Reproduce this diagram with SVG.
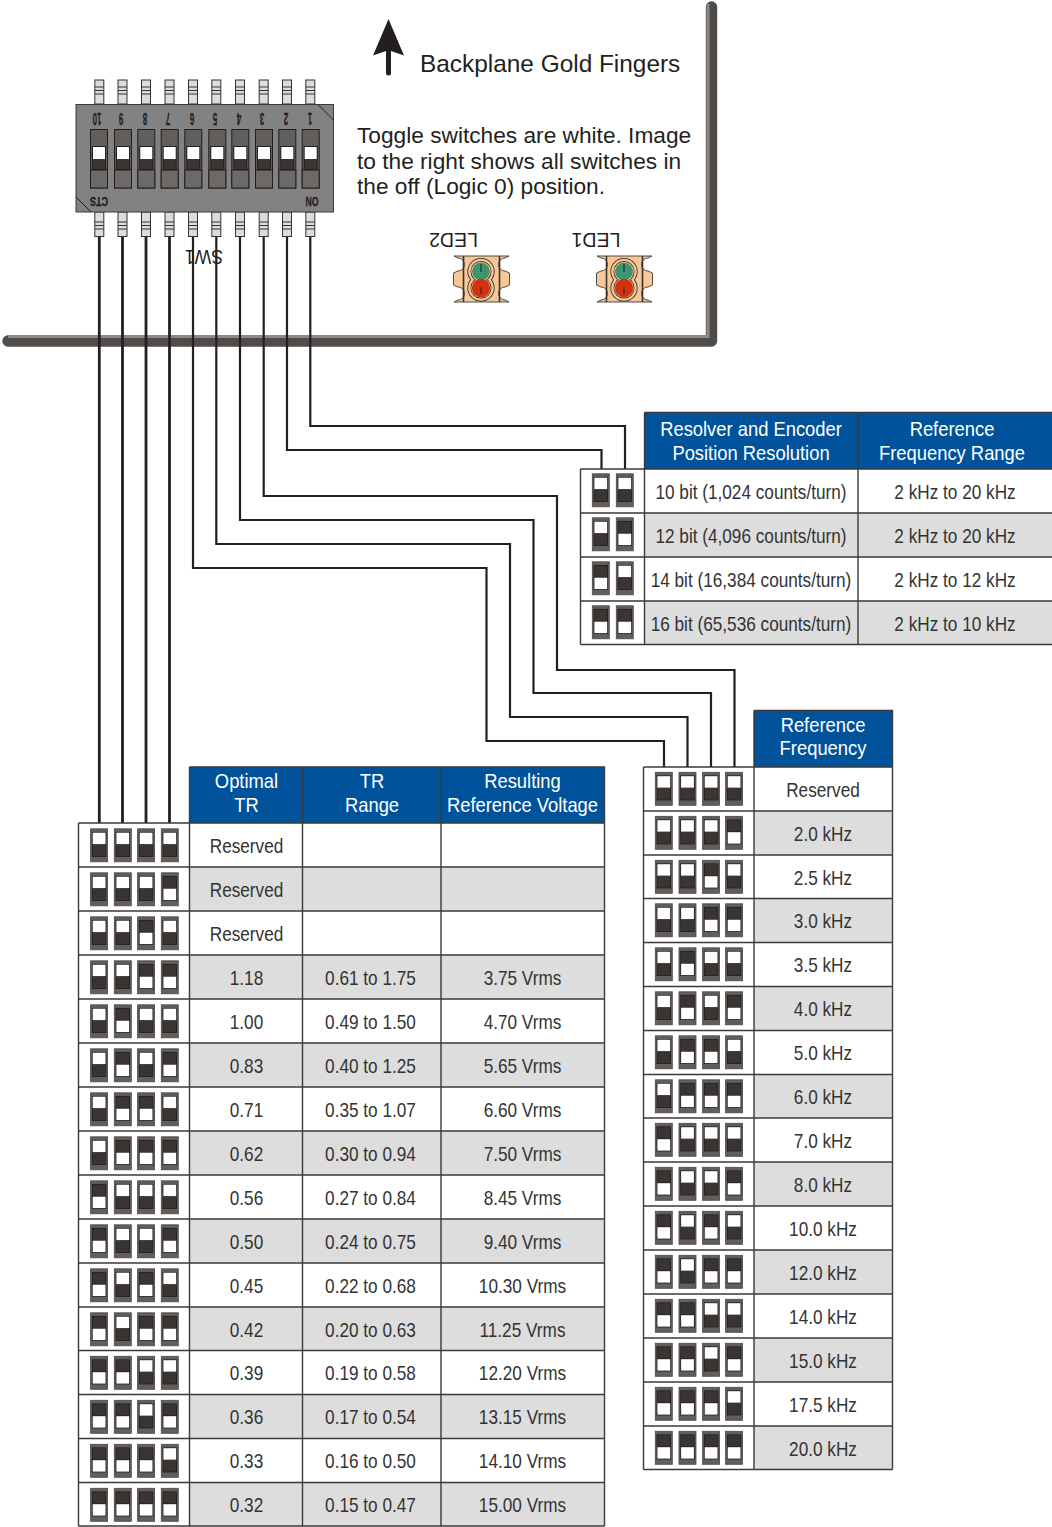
<svg xmlns="http://www.w3.org/2000/svg" width="1052" height="1527" viewBox="0 0 1052 1527">
<style>
text{font-family:"Liberation Sans",Arial,sans-serif;fill:#333;}
.wide{fill:#231f20;}
.c{text-anchor:middle;font-size:20px;transform-box:fill-box;transform-origin:center;transform:scaleX(.86);}
.h{text-anchor:middle;font-size:21px;fill:#fff;transform-box:fill-box;transform-origin:center;transform:scaleX(.875);}
.hd{fill:#00539b;}
.g{fill:#dcdddc;}
.ln{fill:none;stroke:#3a3a3a;stroke-width:1.4;}
.w{fill:none;stroke:#231f20;stroke-width:2.2;}
.wt{fill:none;stroke:#231f20;stroke-width:2.8;}
.pin{fill:#dcdcdc;stroke:#333;stroke-width:1;}
.d{font-size:16px;font-weight:bold;text-anchor:middle;fill:#231f20;stroke:#231f20;stroke-width:.3;}
</style>
<defs>
<g id="s0"><rect x=".3" y=".3" width="17" height="33" fill="#625e5c" stroke="#4c4846" stroke-width=".8"/><rect x="1.6" y="3.4" width="14.4" height="25" fill="#231f20"/><rect x="2.4" y="4.2" width="12.8" height="11.6" fill="#fff"/><rect x="2.4" y="15.8" width="12.8" height="11.8" fill="#3a3532"/></g>
<g id="s1"><rect x=".3" y=".3" width="17" height="33" fill="#625e5c" stroke="#4c4846" stroke-width=".8"/><rect x="1.6" y="3.4" width="14.4" height="25" fill="#231f20"/><rect x="2.4" y="4.2" width="12.8" height="11.2" fill="#3a3532"/><rect x="2.4" y="16.2" width="12.8" height="11.4" fill="#fff"/></g>
<g id="dip"><rect x=".5" y=".5" width="17" height="58.5" fill="#625e5c" stroke="#231f20"/><rect x=".5" y="41" width="17" height="18" fill="#6c6967" stroke="#231f20"/><rect x="2" y="17" width="14" height="24" fill="#231f20"/><rect x="3" y="18" width="12" height="12" fill="#fff"/><rect x="3" y="30" width="12" height="10" fill="#3a3532"/></g>
<g id="ptop"><rect class="pin" x="-4.5" y="0" width="9" height="24"/><path class="pin" d="M-4.5,7H4.5M-4.5,10.5H4.5M-4.5,14H4.5"/></g>
<g id="pbot"><rect class="pin" x="-4.5" y="0" width="9" height="24.5"/><path class="pin" d="M-4.5,10H4.5M-4.5,13.5H4.5M-4.5,17H4.5"/></g>
<g id="led">
<path d="M1,0H56L52,2A6.5,6.5 0 0 0 52,15L56.5,17V29L52,31A6.5,6.5 0 0 0 52,44L56,46H1L5,44A6.5,6.5 0 0 0 5,31L.5,29V17L5,15A6.5,6.5 0 0 0 5,2Z" fill="#f7c795" stroke="#3a3a3a" stroke-width=".9"/>
<path d="M10.5,0V46M46.5,0V46" fill="none" stroke="#3a3230" stroke-width="1.6"/>
<circle cx="28" cy="15.5" r="13.6" fill="#231f20"/><circle cx="28" cy="32" r="13.6" fill="#231f20"/>
<circle cx="28" cy="15.5" r="12.8" fill="#f7c795"/><circle cx="28" cy="32" r="12.8" fill="#f7c795"/>
<circle cx="28" cy="15.5" r="10.5" fill="#231f20"/><circle cx="28" cy="32" r="10.5" fill="#231f20"/>
<circle cx="28" cy="15.5" r="9.8" fill="#f7c795"/><circle cx="28" cy="32" r="9.8" fill="#f7c795"/>
<circle cx="28" cy="15.5" r="8.9" fill="#3f9470"/><circle cx="28" cy="32" r="9.2" fill="#d2310f"/>
<path d="M28,8V16M28,31V38" stroke="#231f20" stroke-width="1" fill="none"/>
</g>
</defs>
<rect width="1052" height="1527" fill="#fff"/>

<g id="board">
<path d="M8,341H711.5V7" fill="none" stroke="#4f4b49" stroke-width="11.4" stroke-linecap="round" stroke-linejoin="round"/>
<path d="M8,336.6H708V4" fill="none" stroke="#8b8a88" stroke-width="3"/>
</g>
<g id="gold-fingers-arrow"><path d="M388.5,19L404,55.5L391,51V73A2.5,2.5 0 0 1 386,73V51L373,55.5Z" fill="#231f20"/></g>
<text class="wide" x="420" y="72" font-size="24.4">Backplane Gold Fingers</text>
<text class="wide" font-size="22.7"><tspan x="357" y="143">Toggle switches are white. Image</tspan><tspan x="357" y="169">to the right shows all switches in</tspan><tspan x="357" y="194">the off (Logic 0) position.</tspan></text>

<g id="connectors">
<path class="wt" d="M99.3,237V823M122.5,237V823M146,237V823M169.5,237V823"/>
<path class="w" d="M193,237V568H486.5V741H664V767"/>
<path class="w" d="M216.3,237V544H510V717H687.5V767"/>
<path class="w" d="M240,237V520H533.5V693H711V767"/>
<path class="w" d="M263.7,237V496H557V670H734.5V767"/>
<path class="w" d="M287,237V450H601.5V469"/>
<path class="w" d="M310.3,237V426H625V469"/>
</g>

<g id="SW1">
<use href="#ptop" x="99.3" y="80"/><use href="#ptop" x="122.5" y="80"/><use href="#ptop" x="146" y="80"/><use href="#ptop" x="169.5" y="80"/><use href="#ptop" x="193" y="80"/><use href="#ptop" x="216.3" y="80"/><use href="#ptop" x="240" y="80"/><use href="#ptop" x="263.7" y="80"/><use href="#ptop" x="287" y="80"/><use href="#ptop" x="310.3" y="80"/>
<use href="#pbot" x="99.3" y="212"/><use href="#pbot" x="122.5" y="212"/><use href="#pbot" x="146" y="212"/><use href="#pbot" x="169.5" y="212"/><use href="#pbot" x="193" y="212"/><use href="#pbot" x="216.3" y="212"/><use href="#pbot" x="240" y="212"/><use href="#pbot" x="263.7" y="212"/><use href="#pbot" x="287" y="212"/><use href="#pbot" x="310.3" y="212"/>
<rect x="76" y="104.5" width="257.5" height="107.5" fill="#828282" stroke="#3a3a3a"/>
<path d="M318,104.5L333.5,120M76,197L91,212" stroke="#231f20" fill="none"/>
<use href="#dip" x="90" y="129"/><use href="#dip" x="114" y="129"/><use href="#dip" x="137.3" y="129"/><use href="#dip" x="160.7" y="129"/><use href="#dip" x="184.3" y="129"/><use href="#dip" x="208.3" y="129"/><use href="#dip" x="231.3" y="129"/><use href="#dip" x="255" y="129"/><use href="#dip" x="278.3" y="129"/><use href="#dip" x="301.7" y="129"/>
<text class="d" transform="translate(97,113) rotate(180) scale(.5,1)">10</text>
<text class="d" transform="translate(121,113) rotate(180) scale(.5,1)">9</text>
<text class="d" transform="translate(145,113) rotate(180) scale(.5,1)">8</text>
<text class="d" transform="translate(168,113) rotate(180) scale(.5,1)">7</text>
<text class="d" transform="translate(192,113) rotate(180) scale(.5,1)">6</text>
<text class="d" transform="translate(215,113) rotate(180) scale(.5,1)">5</text>
<text class="d" transform="translate(239,113) rotate(180) scale(.5,1)">4</text>
<text class="d" transform="translate(262,113) rotate(180) scale(.5,1)">3</text>
<text class="d" transform="translate(286,113) rotate(180) scale(.5,1)">2</text>
<text class="d" transform="translate(310,113) rotate(180) scale(.5,1)">1</text>
<text class="d" style="font-size:12px" transform="translate(99,196.5) rotate(180) scale(.75,1)">CTS</text>
<text class="d" style="font-size:12px" transform="translate(312,196.5) rotate(180) scale(.72,1)">ON</text>
<text class="wide" text-anchor="middle" font-size="20" transform="translate(204,250) rotate(180) scale(.88,1)">SW1</text>
</g>

<g id="LED2"><use href="#led" x="453" y="256"/><text class="wide" text-anchor="middle" font-size="19.5" transform="translate(453.5,233) rotate(180)">LED2</text></g>
<g id="LED1"><use href="#led" x="596" y="256"/><text class="wide" text-anchor="middle" font-size="19.5" transform="translate(596,233) rotate(180)">LED1</text></g>

<g id="resolution-table">
<rect class="hd" x="644.5" y="412.5" width="408" height="56.5"/>
<path class="ln" d="M644.5,412.5H1052M858,412.5V469M644.5,412.5V469"/>
<text class="h" x="751" y="436">Resolver and Encoder</text><text class="h" x="751" y="460">Position Resolution</text>
<text class="h" x="952" y="436">Reference</text><text class="h" x="952" y="460">Frequency Range</text>
<g id="res-0" transform="translate(0,469)"><text class="c" x="751" y="30">10 bit (1,024 counts/turn)</text><text class="c" x="955" y="30">2 kHz to 20 kHz</text><use href="#s0" x="592" y="4.5"/><use href="#s0" x="616" y="4.5"/></g>
<g id="res-1" transform="translate(0,513)"><rect class="g" x="645" width="407" height="44"/><text class="c" x="751" y="30">12 bit (4,096 counts/turn)</text><text class="c" x="955" y="30">2 kHz to 20 kHz</text><use href="#s0" x="592" y="4.5"/><use href="#s1" x="616" y="4.5"/></g>
<g id="res-2" transform="translate(0,557)"><text class="c" x="751" y="30">14 bit (16,384 counts/turn)</text><text class="c" x="955" y="30">2 kHz to 12 kHz</text><use href="#s1" x="592" y="4.5"/><use href="#s0" x="616" y="4.5"/></g>
<g id="res-3" transform="translate(0,601)"><rect class="g" x="645" width="407" height="43.5"/><text class="c" x="751" y="30">16 bit (65,536 counts/turn)</text><text class="c" x="955" y="30">2 kHz to 10 kHz</text><use href="#s1" x="592" y="4.5"/><use href="#s1" x="616" y="4.5"/></g>
<path class="ln" d="M580.5,469H1052M580.5,513H1052M580.5,557H1052M580.5,601H1052M580.5,644.5H1052M580.5,469V644.5M644.5,469V644.5M858,469V644.5"/>
</g>

<g id="frequency-table">
<rect class="hd" x="754" y="710.5" width="138.5" height="56.5"/>
<path class="ln" d="M754,710.5H892.5V767M754,710.5V767"/>
<text class="h" x="823" y="732">Reference</text><text class="h" x="823" y="755.5">Frequency</text>
<g id="f0" transform="translate(0,767)"><text class="c" x="823" y="30">Reserved</text><use href="#s0" x="655" y="5"/><use href="#s0" x="678.7" y="5"/><use href="#s0" x="702.3" y="5"/><use href="#s0" x="725.3" y="5"/></g>
<g id="f1" transform="translate(0,811)"><rect class="g" x="754" width="138" height="44"/><text class="c" x="823" y="30">2.0 kHz</text><use href="#s0" x="655" y="5"/><use href="#s0" x="678.7" y="5"/><use href="#s0" x="702.3" y="5"/><use href="#s1" x="725.3" y="5"/></g>
<g id="f2" transform="translate(0,855)"><text class="c" x="823" y="30">2.5 kHz</text><use href="#s0" x="655" y="5"/><use href="#s0" x="678.7" y="5"/><use href="#s1" x="702.3" y="5"/><use href="#s0" x="725.3" y="5"/></g>
<g id="f3" transform="translate(0,898.5)"><rect class="g" x="754" width="138" height="44"/><text class="c" x="823" y="30">3.0 kHz</text><use href="#s0" x="655" y="5"/><use href="#s0" x="678.7" y="5"/><use href="#s1" x="702.3" y="5"/><use href="#s1" x="725.3" y="5"/></g>
<g id="f4" transform="translate(0,942.5)"><text class="c" x="823" y="30">3.5 kHz</text><use href="#s0" x="655" y="5"/><use href="#s1" x="678.7" y="5"/><use href="#s0" x="702.3" y="5"/><use href="#s0" x="725.3" y="5"/></g>
<g id="f5" transform="translate(0,986.5)"><rect class="g" x="754" width="138" height="44"/><text class="c" x="823" y="30">4.0 kHz</text><use href="#s0" x="655" y="5"/><use href="#s1" x="678.7" y="5"/><use href="#s0" x="702.3" y="5"/><use href="#s1" x="725.3" y="5"/></g>
<g id="f6" transform="translate(0,1030.5)"><text class="c" x="823" y="30">5.0 kHz</text><use href="#s0" x="655" y="5"/><use href="#s1" x="678.7" y="5"/><use href="#s1" x="702.3" y="5"/><use href="#s0" x="725.3" y="5"/></g>
<g id="f7" transform="translate(0,1074.5)"><rect class="g" x="754" width="138" height="43.5"/><text class="c" x="823" y="30">6.0 kHz</text><use href="#s0" x="655" y="5"/><use href="#s1" x="678.7" y="5"/><use href="#s1" x="702.3" y="5"/><use href="#s1" x="725.3" y="5"/></g>
<g id="f8" transform="translate(0,1118)"><text class="c" x="823" y="30">7.0 kHz</text><use href="#s1" x="655" y="5"/><use href="#s0" x="678.7" y="5"/><use href="#s0" x="702.3" y="5"/><use href="#s0" x="725.3" y="5"/></g>
<g id="f9" transform="translate(0,1162)"><rect class="g" x="754" width="138" height="44"/><text class="c" x="823" y="30">8.0 kHz</text><use href="#s1" x="655" y="5"/><use href="#s0" x="678.7" y="5"/><use href="#s0" x="702.3" y="5"/><use href="#s1" x="725.3" y="5"/></g>
<g id="f10" transform="translate(0,1206)"><text class="c" x="823" y="30">10.0 kHz</text><use href="#s1" x="655" y="5"/><use href="#s0" x="678.7" y="5"/><use href="#s1" x="702.3" y="5"/><use href="#s0" x="725.3" y="5"/></g>
<g id="f11" transform="translate(0,1250)"><rect class="g" x="754" width="138" height="44"/><text class="c" x="823" y="30">12.0 kHz</text><use href="#s1" x="655" y="5"/><use href="#s0" x="678.7" y="5"/><use href="#s1" x="702.3" y="5"/><use href="#s1" x="725.3" y="5"/></g>
<g id="f12" transform="translate(0,1294)"><text class="c" x="823" y="30">14.0 kHz</text><use href="#s1" x="655" y="5"/><use href="#s1" x="678.7" y="5"/><use href="#s0" x="702.3" y="5"/><use href="#s0" x="725.3" y="5"/></g>
<g id="f13" transform="translate(0,1338)"><rect class="g" x="754" width="138" height="44"/><text class="c" x="823" y="30">15.0 kHz</text><use href="#s1" x="655" y="5"/><use href="#s1" x="678.7" y="5"/><use href="#s0" x="702.3" y="5"/><use href="#s1" x="725.3" y="5"/></g>
<g id="f14" transform="translate(0,1382)"><text class="c" x="823" y="30">17.5 kHz</text><use href="#s1" x="655" y="5"/><use href="#s1" x="678.7" y="5"/><use href="#s1" x="702.3" y="5"/><use href="#s0" x="725.3" y="5"/></g>
<g id="f15" transform="translate(0,1426)"><rect class="g" x="754" width="138" height="43.5"/><text class="c" x="823" y="30">20.0 kHz</text><use href="#s1" x="655" y="5"/><use href="#s1" x="678.7" y="5"/><use href="#s1" x="702.3" y="5"/><use href="#s1" x="725.3" y="5"/></g>
<path class="ln" d="M643.5,767H892.5M643.5,811H892.5M643.5,855H892.5M643.5,898.5H892.5M643.5,942.5H892.5M643.5,986.5H892.5M643.5,1030.5H892.5M643.5,1074.5H892.5M643.5,1118H892.5M643.5,1162H892.5M643.5,1206H892.5M643.5,1250H892.5M643.5,1294H892.5M643.5,1338H892.5M643.5,1382H892.5M643.5,1426H892.5M643.5,1469.5H892.5M643.5,767V1469.5M754,767V1469.5M892.5,767V1469.5"/>
</g>

<g id="tr-table">
<rect class="hd" x="189.5" y="767" width="415" height="56"/>
<path class="ln" d="M189.5,767H604.5V823M189.5,767V823M302.5,767V823M441,767V823"/>
<text class="h" x="246.5" y="788">Optimal</text><text class="h" x="246.5" y="812">TR</text>
<text class="h" x="372" y="788">TR</text><text class="h" x="372" y="812">Range</text>
<text class="h" x="522.5" y="788">Resulting</text><text class="h" x="522.5" y="812">Reference Voltage</text>
<g id="t0" transform="translate(0,823)"><text class="c" x="246.5" y="30">Reserved</text><use href="#s0" x="90.3" y="5.5"/><use href="#s0" x="114" y="5.5"/><use href="#s0" x="137.3" y="5.5"/><use href="#s0" x="161" y="5.5"/></g>
<g id="t1" transform="translate(0,867)"><rect class="g" x="189.5" width="415" height="44"/><text class="c" x="246.5" y="30">Reserved</text><use href="#s0" x="90.3" y="5.5"/><use href="#s0" x="114" y="5.5"/><use href="#s0" x="137.3" y="5.5"/><use href="#s1" x="161" y="5.5"/></g>
<g id="t2" transform="translate(0,911)"><text class="c" x="246.5" y="30">Reserved</text><use href="#s0" x="90.3" y="5.5"/><use href="#s0" x="114" y="5.5"/><use href="#s1" x="137.3" y="5.5"/><use href="#s0" x="161" y="5.5"/></g>
<g id="t3" transform="translate(0,955)"><rect class="g" x="189.5" width="415" height="44"/><text class="c" x="246.5" y="30">1.18</text><text class="c" x="370.5" y="30">0.61 to 1.75</text><text class="c" x="522.5" y="30">3.75 Vrms</text><use href="#s0" x="90.3" y="5.5"/><use href="#s0" x="114" y="5.5"/><use href="#s1" x="137.3" y="5.5"/><use href="#s1" x="161" y="5.5"/></g>
<g id="t4" transform="translate(0,999)"><text class="c" x="246.5" y="30">1.00</text><text class="c" x="370.5" y="30">0.49 to 1.50</text><text class="c" x="522.5" y="30">4.70 Vrms</text><use href="#s0" x="90.3" y="5.5"/><use href="#s1" x="114" y="5.5"/><use href="#s0" x="137.3" y="5.5"/><use href="#s0" x="161" y="5.5"/></g>
<g id="t5" transform="translate(0,1043)"><rect class="g" x="189.5" width="415" height="44"/><text class="c" x="246.5" y="30">0.83</text><text class="c" x="370.5" y="30">0.40 to 1.25</text><text class="c" x="522.5" y="30">5.65 Vrms</text><use href="#s0" x="90.3" y="5.5"/><use href="#s1" x="114" y="5.5"/><use href="#s0" x="137.3" y="5.5"/><use href="#s1" x="161" y="5.5"/></g>
<g id="t6" transform="translate(0,1087)"><text class="c" x="246.5" y="30">0.71</text><text class="c" x="370.5" y="30">0.35 to 1.07</text><text class="c" x="522.5" y="30">6.60 Vrms</text><use href="#s0" x="90.3" y="5.5"/><use href="#s1" x="114" y="5.5"/><use href="#s1" x="137.3" y="5.5"/><use href="#s0" x="161" y="5.5"/></g>
<g id="t7" transform="translate(0,1131)"><rect class="g" x="189.5" width="415" height="44"/><text class="c" x="246.5" y="30">0.62</text><text class="c" x="370.5" y="30">0.30 to 0.94</text><text class="c" x="522.5" y="30">7.50 Vrms</text><use href="#s0" x="90.3" y="5.5"/><use href="#s1" x="114" y="5.5"/><use href="#s1" x="137.3" y="5.5"/><use href="#s1" x="161" y="5.5"/></g>
<g id="t8" transform="translate(0,1175)"><text class="c" x="246.5" y="30">0.56</text><text class="c" x="370.5" y="30">0.27 to 0.84</text><text class="c" x="522.5" y="30">8.45 Vrms</text><use href="#s1" x="90.3" y="5.5"/><use href="#s0" x="114" y="5.5"/><use href="#s0" x="137.3" y="5.5"/><use href="#s0" x="161" y="5.5"/></g>
<g id="t9" transform="translate(0,1219)"><rect class="g" x="189.5" width="415" height="44"/><text class="c" x="246.5" y="30">0.50</text><text class="c" x="370.5" y="30">0.24 to 0.75</text><text class="c" x="522.5" y="30">9.40 Vrms</text><use href="#s1" x="90.3" y="5.5"/><use href="#s0" x="114" y="5.5"/><use href="#s0" x="137.3" y="5.5"/><use href="#s1" x="161" y="5.5"/></g>
<g id="t10" transform="translate(0,1263)"><text class="c" x="246.5" y="30">0.45</text><text class="c" x="370.5" y="30">0.22 to 0.68</text><text class="c" x="522.5" y="30">10.30 Vrms</text><use href="#s1" x="90.3" y="5.5"/><use href="#s0" x="114" y="5.5"/><use href="#s1" x="137.3" y="5.5"/><use href="#s0" x="161" y="5.5"/></g>
<g id="t11" transform="translate(0,1307)"><rect class="g" x="189.5" width="415" height="44"/><text class="c" x="246.5" y="30">0.42</text><text class="c" x="370.5" y="30">0.20 to 0.63</text><text class="c" x="522.5" y="30">11.25 Vrms</text><use href="#s1" x="90.3" y="5.5"/><use href="#s0" x="114" y="5.5"/><use href="#s1" x="137.3" y="5.5"/><use href="#s1" x="161" y="5.5"/></g>
<g id="t12" transform="translate(0,1350.5)"><text class="c" x="246.5" y="30">0.39</text><text class="c" x="370.5" y="30">0.19 to 0.58</text><text class="c" x="522.5" y="30">12.20 Vrms</text><use href="#s1" x="90.3" y="5.5"/><use href="#s1" x="114" y="5.5"/><use href="#s0" x="137.3" y="5.5"/><use href="#s0" x="161" y="5.5"/></g>
<g id="t13" transform="translate(0,1394.5)"><rect class="g" x="189.5" width="415" height="44"/><text class="c" x="246.5" y="30">0.36</text><text class="c" x="370.5" y="30">0.17 to 0.54</text><text class="c" x="522.5" y="30">13.15 Vrms</text><use href="#s1" x="90.3" y="5.5"/><use href="#s1" x="114" y="5.5"/><use href="#s0" x="137.3" y="5.5"/><use href="#s1" x="161" y="5.5"/></g>
<g id="t14" transform="translate(0,1438.5)"><text class="c" x="246.5" y="30">0.33</text><text class="c" x="370.5" y="30">0.16 to 0.50</text><text class="c" x="522.5" y="30">14.10 Vrms</text><use href="#s1" x="90.3" y="5.5"/><use href="#s1" x="114" y="5.5"/><use href="#s1" x="137.3" y="5.5"/><use href="#s0" x="161" y="5.5"/></g>
<g id="t15" transform="translate(0,1482.5)"><rect class="g" x="189.5" width="415" height="43.5"/><text class="c" x="246.5" y="30">0.32</text><text class="c" x="370.5" y="30">0.15 to 0.47</text><text class="c" x="522.5" y="30">15.00 Vrms</text><use href="#s1" x="90.3" y="5.5"/><use href="#s1" x="114" y="5.5"/><use href="#s1" x="137.3" y="5.5"/><use href="#s1" x="161" y="5.5"/></g>
<path class="ln" d="M78.5,823H604.5M78.5,867H604.5M78.5,911H604.5M78.5,955H604.5M78.5,999H604.5M78.5,1043H604.5M78.5,1087H604.5M78.5,1131H604.5M78.5,1175H604.5M78.5,1219H604.5M78.5,1263H604.5M78.5,1307H604.5M78.5,1350.5H604.5M78.5,1394.5H604.5M78.5,1438.5H604.5M78.5,1482.5H604.5M78.5,1526H604.5M78.5,823V1526M189.5,823V1526M302.5,823V1526M441,823V1526M604.5,823V1526"/>
</g>
</svg>
